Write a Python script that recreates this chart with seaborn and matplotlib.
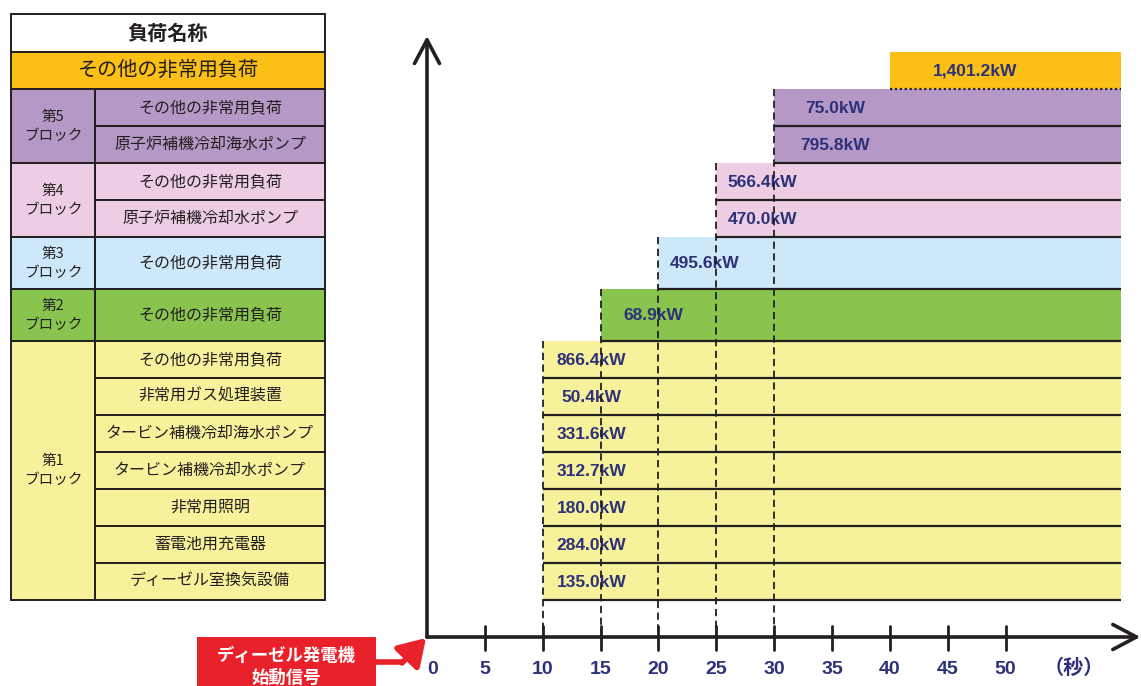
import matplotlib
matplotlib.use("Agg")
import matplotlib.pyplot as plt
import seaborn as sns
import numpy as np
from matplotlib.patches import Rectangle

sns.set_theme(style="white")
plt.rcParams['font.family'] = ['Liberation Sans', 'Noto Sans CJK JP', 'DejaVu Sans']

# --- Data (rows from top to bottom) ---
load_names = ['その他の非常用負荷',
              'その他の非常用負荷', '原子炉補機冷却海水ポンプ',
              'その他の非常用負荷', '原子炉補機冷却水ポンプ',
              'その他の非常用負荷',
              'その他の非常用負荷',
              'その他の非常用負荷', '非常用ガス処理装置', 'タービン補機冷却海水ポンプ',
              'タービン補機冷却水ポンプ', '非常用照明', '蓄電池用充電器', 'ディーゼル室換気設備']
block_no = [0, 5, 5, 4, 4, 3, 2, 1, 1, 1, 1, 1, 1, 1]
start_sec = [40, 30, 30, 25, 25, 20, 15, 10, 10, 10, 10, 10, 10, 10]
load_kw = [1401.2, 75.0, 795.8, 566.4, 470.0, 495.6, 68.9,
           866.4, 50.4, 331.6, 312.7, 180.0, 284.0, 135.0]
end_sec = 60
x_ticks = [0, 5, 10, 15, 20, 25, 30, 35, 40, 45, 50]
header_text = '負荷名称'
unit_text = '（秒）'
signal_text = 'ディーゼル発電機\n始動信号'

block_colors = {0: '#FBBF16', 5: '#B598C6', 4: '#EDCDE3', 3: '#CDE8F8',
                2: '#88C44E', 1: '#F7F19B'}
ink = '#231F20'
navy = '#2D3179'
red = '#E9212B'

# --- Layout (pixel based canvas) ---
W, H = 1141, 686
X0 = 427            # pixel of t = 0
PX_PER_SEC = 11.57
AXIS_Y = 637
TABLE_TOP = 52

fig = plt.figure(figsize=(W / 100, H / 100), dpi=100)
bg = fig.add_axes([0, 0, 1, 1])
bg.set_xlim(0, W)
bg.set_ylim(H, 0)
bg.axis('off')

ax = fig.add_axes([X0 / W, 0, (W - X0) / W, 1])
ax.set_xlim(0, (W - X0) / PX_PER_SEC)
ax.set_ylim(H, 0)
ax.axis('off')
ax.patch.set_alpha(0)

# row geometry: single-row blocks are taller so the block label fits
counts = {b: block_no.count(b) for b in set(block_no)}
row_h = np.array([52 if (counts[b] == 1 and b != 0) else 37 for b in block_no])
tops = TABLE_TOP + np.concatenate([[0], np.cumsum(row_h)[:-1]])
bottoms = tops + row_h
centers = tops + row_h / 2
colors = [block_colors[b] for b in block_no]

# --- Bars ---
ax.barh(centers, [end_sec - s for s in start_sec], left=start_sec, height=row_h,
        color=colors, edgecolor='none', zorder=1)

for i, s in enumerate(start_sec):
    ls = (0, (1, 1.2)) if block_no[i] == 0 else '-'
    ax.hlines(bottoms[i], s, end_sec, color=ink, lw=1.6, linestyles=[ls], zorder=2)

# dashed start markers
for s in sorted(set(start_sec)):
    rows = [i for i, v in enumerate(start_sec) if v == s]
    if block_no[rows[0]] == 0:
        continue
    ax.vlines(s, tops[rows[0]], AXIS_Y, color=ink, lw=1.3,
              linestyles=[(0, (4, 2.5))], zorder=4)

# value labels
label_x = {0: 47.4, 5: 35.3, 4: 29.0, 3: 24.0, 2: 19.6, 1: 14.2}
for i, v in enumerate(load_kw):
    ax.text(label_x[block_no[i]], centers[i] + 1, f'{v:,.1f}kW', ha='center', va='center',
            fontsize=12.5, fontweight='bold', color=navy, zorder=3)

# --- Axes arrows and ticks ---
arrow_kw = dict(arrowstyle='->,head_length=0.85,head_width=0.45', lw=2.6, color=ink,
                mutation_scale=20, shrinkA=0, shrinkB=0)
ax.annotate('', xy=(61.65, AXIS_Y), xytext=(0, AXIS_Y), arrowprops=arrow_kw,
            annotation_clip=False, zorder=5)
ax.annotate('', xy=(0, 36), xytext=(0, AXIS_Y), arrowprops=arrow_kw,
            annotation_clip=False, zorder=5)
for t in x_ticks[1:]:
    ax.plot([t, t], [626, 650], color=ink, lw=2, zorder=5)
for t in x_ticks:
    ax.text(t if t else 0.45, 669, str(t), ha='center', va='center', fontsize=14,
            fontweight='bold', color=navy)
ax.text(55.9, 667, unit_text, ha='center', va='center', fontsize=14.5,
        fontweight='bold', color=navy, family=['Noto Sans CJK JP'])

# --- Load table ---
TL, TM, TR = 11, 95, 325
jp = ['Noto Sans CJK JP', 'DejaVu Sans']
bg.add_patch(Rectangle((TL, 14), TR - TL, TABLE_TOP - 14, fc='white', ec=ink, lw=1.4))
bg.text((TL + TR) / 2, 33, header_text, ha='center', va='center', fontsize=14.5,
        fontweight='bold', color=ink, family=jp)

for i, name in enumerate(load_names):
    if block_no[i] == 0:
        bg.add_patch(Rectangle((TL, tops[i]), TR - TL, row_h[i], fc=colors[i], ec=ink, lw=1.4))
        bg.text((TL + TR) / 2, centers[i], name, ha='center', va='center', fontsize=14.5,
                color=ink, family=jp)
    else:
        bg.add_patch(Rectangle((TM, tops[i]), TR - TM, row_h[i], fc=colors[i], ec=ink, lw=1.4))
        bg.text((TM + TR) / 2, centers[i], name, ha='center', va='center', fontsize=11.5,
                color=ink, family=jp)

for b in sorted(set(block_no) - {0}, reverse=True):
    rows = [i for i, v in enumerate(block_no) if v == b]
    top, bot = tops[rows[0]], bottoms[rows[-1]]
    bg.add_patch(Rectangle((TL, top), TM - TL, bot - top, fc=block_colors[b], ec=ink, lw=1.4))
    bg.text((TL + TM) / 2, (top + bot) / 2, f'第{b}\nブロック', ha='center', va='center',
            fontsize=10.5, color=ink, family=jp, linespacing=1.45)

# --- Start signal callout ---
bg.add_patch(Rectangle((197, 637), 179, 60, fc=red, ec='none', clip_on=False))
bg.text(286.5, 667, signal_text, ha='center', va='center', fontsize=12.5,
        fontweight='bold', color='white', family=jp, linespacing=1.3)
bg.plot([376, 404], [662, 662], color=red, lw=4, solid_capstyle='butt')
bg.annotate('', xy=(426, 638), xytext=(402, 663),
            arrowprops=dict(arrowstyle='-|>,head_length=0.8,head_width=0.5', color=red,
                            lw=4, mutation_scale=20, shrinkA=0, shrinkB=0))

fig.savefig('out.png', dpi=100)
